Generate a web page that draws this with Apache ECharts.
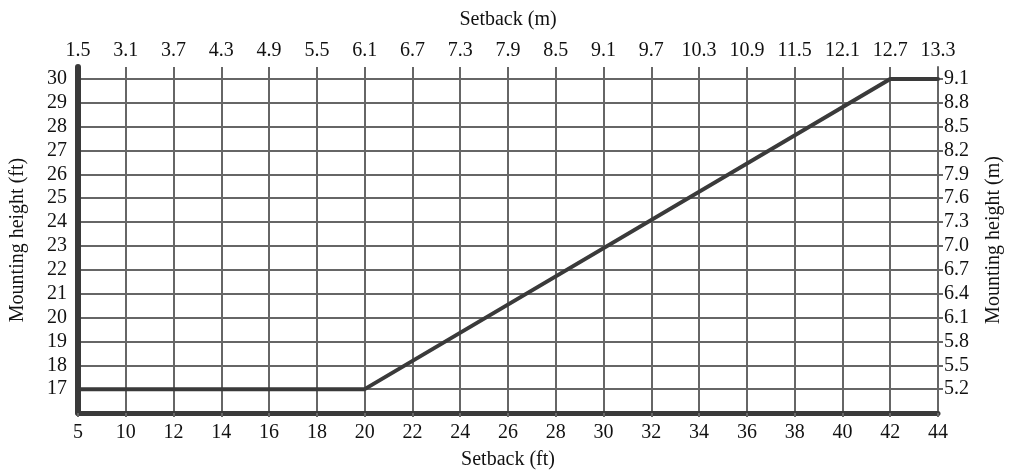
<!DOCTYPE html>
<html>
<head>
<meta charset="utf-8">
<script src="https://cdn.jsdelivr.net/npm/echarts@6/dist/echarts.min.js"></script>
<style>
  html, body { margin: 0; padding: 0; background: #fff; overflow: hidden; }
  #chart { width: 1012px; height: 475px; }
</style>
</head>
<body>
<div id="chart"></div>
<script>
// Setback in feet (bottom scale) and the matching metre labels (top scale)
var setbackFt = ['5', '10', '12', '14', '16', '18', '20', '22', '24', '26',
                 '28', '30', '32', '34', '36', '38', '40', '42', '44'];
var setbackM = ['1.5', '3.1', '3.7', '4.3', '4.9', '5.5', '6.1', '6.7', '7.3', '7.9',
                '8.5', '9.1', '9.7', '10.3', '10.9', '11.5', '12.1', '12.7', '13.3'];

// Mounting height ticks in feet (left) and metres (right)
var heightFtTicks = [17, 18, 19, 20, 21, 22, 23, 24, 25, 26, 27, 28, 29, 30];
var heightMLabels = ['5.2', '5.5', '5.8', '6.1', '6.4', '6.7', '7.0',
                     '7.3', '7.6', '7.9', '8.2', '8.5', '8.8', '9.1'];

// Required mounting height vs. setback: break points of the curve
var curveSetback = ['5', '20', '42', '44'];
var curveHeight = [17, 17, 30, 30];

var FONT = '"Liberation Serif", "DejaVu Serif", serif';
var GRID = '#666666';
var DARK = '#3a3a3a';
var FS = 20;

function ftLabel(v) {
  return heightFtTicks.indexOf(v) >= 0 ? String(v) : '';
}
function mLabel(v) {
  var i = heightFtTicks.indexOf(v);
  return i >= 0 ? heightMLabels[i] : '';
}

var chart = echarts.init(document.getElementById('chart'), null, { renderer: 'canvas' });
chart.setOption({
  animation: false,
  backgroundColor: '#fff',
  textStyle: { fontFamily: FONT, color: '#111' },
  grid: { left: 77, right: 71, top: 67, bottom: 59, containLabel: false },
  xAxis: [
    {
      type: 'category',
      position: 'bottom',
      data: setbackFt,
      boundaryGap: false,
      name: 'Setback (ft)',
      nameLocation: 'middle',
      nameGap: 37,
      nameTextStyle: { fontFamily: FONT, fontSize: FS, color: '#111' },
      axisLine: { show: true, lineStyle: { color: DARK, width: 5 } },
      axisTick: { show: true, length: 4, lineStyle: { color: GRID, width: 2 } },
      axisLabel: { fontFamily: FONT, fontSize: FS, color: '#111', margin: 10, interval: 0 },
      splitLine: { show: true, lineStyle: { color: GRID, width: 2 } }
    },
    {
      type: 'category',
      position: 'top',
      data: setbackM,
      boundaryGap: false,
      name: 'Setback (m)',
      nameLocation: 'middle',
      nameGap: 37,
      nameTextStyle: { fontFamily: FONT, fontSize: FS, color: '#111' },
      axisLine: { show: false },
      axisTick: { show: false },
      axisLabel: { fontFamily: FONT, fontSize: FS, color: '#111', margin: 6, interval: 0 },
      splitLine: { show: false }
    }
  ],
  yAxis: [
    {
      type: 'value',
      position: 'left',
      min: 16,
      max: 30.5,
      interval: 1,
      name: 'Mounting height (ft)',
      nameLocation: 'middle',
      nameGap: 50,
      nameRotate: 90,
      nameTextStyle: { fontFamily: FONT, fontSize: FS, color: '#111' },
      axisLine: { show: true, lineStyle: { color: DARK, width: 6 } },
      axisTick: { show: false },
      axisLabel: {
        fontFamily: FONT, fontSize: FS, color: '#111', margin: 11,
        showMinLabel: false, showMaxLabel: false,
        formatter: ftLabel
      },
      splitLine: { show: true, showMinLine: false, showMaxLine: false,
                   lineStyle: { color: GRID, width: 2 } }
    },
    {
      type: 'value',
      position: 'right',
      min: 16,
      max: 30.5,
      interval: 1,
      name: 'Mounting height (m)',
      nameLocation: 'middle',
      nameGap: 46,
      nameRotate: 90,
      nameTextStyle: { fontFamily: FONT, fontSize: FS, color: '#111' },
      axisLine: { show: true, lineStyle: { color: GRID, width: 2 } },
      axisTick: { show: true, length: 5, lineStyle: { color: GRID, width: 2 } },
      axisLabel: {
        fontFamily: FONT, fontSize: FS, color: '#111', margin: 6,
        showMinLabel: false, showMaxLabel: false,
        formatter: mLabel
      },
      splitLine: { show: false }
    }
  ],
  series: [
    {
      type: 'line',
      xAxisIndex: 0,
      yAxisIndex: 0,
      data: curveSetback.map(function (s, i) { return [s, curveHeight[i]]; }),
      showSymbol: false,
      symbol: 'none',
      lineStyle: { color: DARK, width: 4, cap: 'round', join: 'round' },
      z: 5
    }
  ]
});
</script>
</body>
</html>
